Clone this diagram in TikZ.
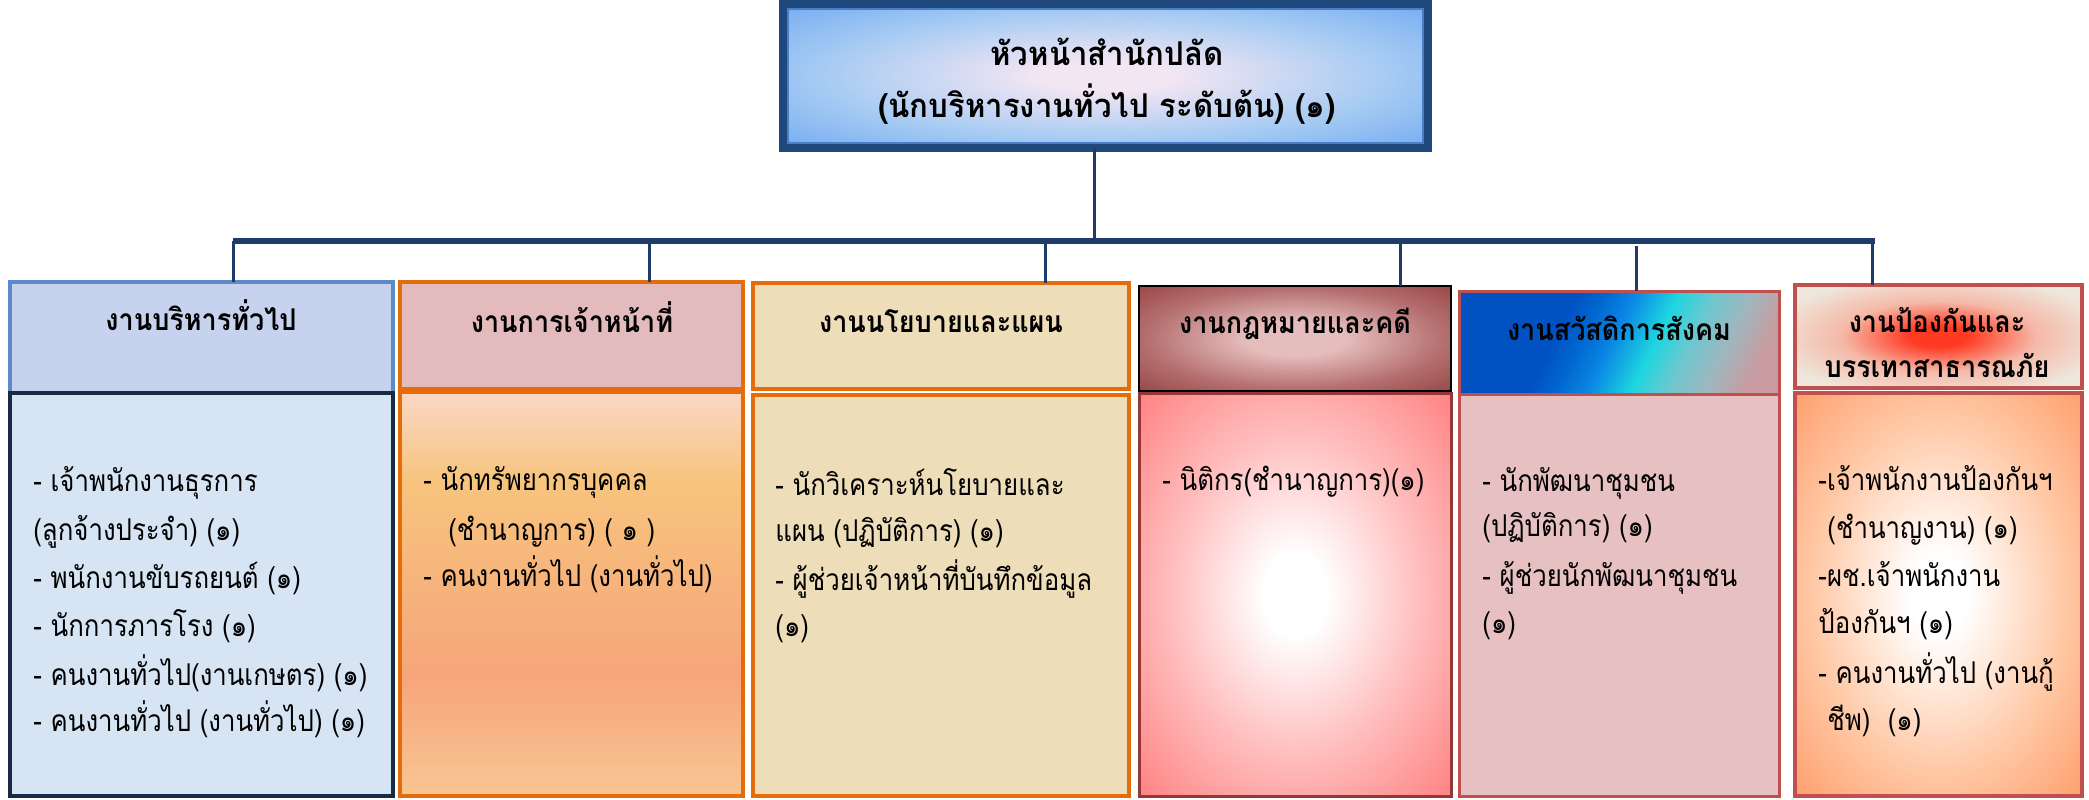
\documentclass[tikz,border=0pt]{standalone}
\usepackage{fontspec}
\setmainfont[Script=Thai, FakeStretch=0.86]{Loma}
\newfontfamily\hdrfont[Script=Thai, FakeStretch=0.9]{Loma}
\newfontfamily\topfont[Script=Thai, FakeStretch=0.95]{Loma}
\usetikzlibrary{fit}
\definecolor{navy}{HTML}{1F3C68}
\definecolor{tbborder}{HTML}{1F497D}
\definecolor{tbinner}{HTML}{4A7FC8}
\definecolor{tbin}{HTML}{F3E6F3}
\definecolor{tbmid}{HTML}{A6CBF3}
\definecolor{tbout}{HTML}{5C9CF0}
\definecolor{hone}{HTML}{C7D2EE}
\definecolor{honedraw}{HTML}{5B8CC8}
\definecolor{bone}{HTML}{D6E4F3}
\definecolor{bonedraw}{HTML}{172B45}
\definecolor{orng}{HTML}{E46C0A}
\definecolor{htwo}{HTML}{E3BBBD}
\definecolor{parch}{HTML}{EEDDB9}
\definecolor{redb}{HTML}{C0504D}
\definecolor{darkred}{HTML}{953735}
\definecolor{bfive}{HTML}{E7C0C2}
% shading colours
\definecolor{ca}{HTML}{FAE8CC}
\definecolor{cb}{HTML}{FBE3EE}
\definecolor{cc}{HTML}{F7C47D}
\definecolor{cd}{HTML}{F6A57B}
\definecolor{ce}{HTML}{F9D09A}
\definecolor{cf}{HTML}{FADCD4}
\definecolor{fa}{HTML}{0052C2}
\definecolor{fg}{HTML}{0068D0}
\definecolor{fb}{HTML}{0A86E4}
\definecolor{fc}{HTML}{1ED6E0}
\definecolor{fd}{HTML}{6CC7CF}
\definecolor{fe}{HTML}{A0B6BE}
\definecolor{ff}{HTML}{C89CA0}
\definecolor{ga}{HTML}{FF3A22}
\definecolor{gb}{HTML}{F5B9A8}
\definecolor{gc}{HTML}{EEE7DC}
\definecolor{ka}{HTML}{E6BDBD}
\definecolor{kb}{HTML}{B46E6E}
\definecolor{kc}{HTML}{8E3838}
\definecolor{pa}{HTML}{FFBDBD}
\definecolor{pb}{HTML}{FF8080}
\definecolor{oa}{HTML}{FFC8A5}
\definecolor{ob}{HTML}{FF9763}
\pgfdeclareradialshading{topsh}{\pgfpoint{0bp}{0bp}}{color(0bp)=(tbin); color(5bp)=(tbin); color(22bp)=(tbmid); color(42bp)=(tbout); color(75bp)=(tbout)}
\pgfdeclareverticalshading{btwosh}{100bp}{color(0bp)=(cf); color(20bp)=(ce); color(40bp)=(cd); color(64bp)=(cc); color(81bp)=(cb); color(100bp)=(ca)}
\pgfdeclarehorizontalshading{hfivesh}{100bp}{color(0bp)=(fa); color(38bp)=(fa); color(43bp)=(fg); color(48.5bp)=(fb); color(56.5bp)=(fc); color(63bp)=(fd); color(70bp)=(fe); color(77bp)=(ff); color(100bp)=(ff)}
\pgfdeclareradialshading{hsixsh}{\pgfpoint{0bp}{0bp}}{color(0bp)=(ga); color(5bp)=(ga); color(17bp)=(gb); color(30bp)=(gc); color(75bp)=(gc)}
\pgfdeclareradialshading{hfoursh}{\pgfpoint{0bp}{0bp}}{color(0bp)=(ka); color(8bp)=(ka); color(24bp)=(kb); color(40bp)=(kc); color(75bp)=(kc)}
\pgfdeclareradialshading{bfoursh}{\pgfpoint{0bp}{0bp}}{color(0bp)=(white); color(5bp)=(white); color(20bp)=(pa); color(36bp)=(pb); color(75bp)=(pb)}
\pgfdeclareradialshading{bsixsh}{\pgfpoint{0bp}{0bp}}{color(0bp)=(white); color(5bp)=(white); color(22bp)=(oa); color(38bp)=(ob); color(75bp)=(ob)}
\tikzset{
  boxnode/.style={inner sep=0pt, outer sep=0pt},
  conn/.style={draw=navy, line width=1.5pt},
  busline/.style={draw=navy, line width=2.8pt},
  hdr/.style={font=\hdrfont\fontsize{15}{18}\selectfont\bfseries, inner sep=0pt, anchor=base, text=black},
  toptxt/.style={font=\topfont\fontsize{16.4}{18}\selectfont\bfseries, inner sep=0pt, anchor=base, text=black},
  bodytxt/.style={font=\fontsize{15}{18}\selectfont, inner sep=0pt, anchor=base west, text=black}
}
\newcommand{\bodyln}[4]{\node[bodytxt] (#1) at (#2,#3) {#4};}
\newcommand{\hdrln}[4]{\node[hdr] (#1) at (#2,#3) {#4};}
\begin{document}
\begin{tikzpicture}[x=0.5pt,y=-0.5pt]
\useasboundingbox (0,0) rectangle (2089,799);
% top box
\node[boxnode, fit={(783,4)(1428,148)}, shade, shading=topsh, draw=tbborder, line width=4pt] (top) {};
\draw[tbinner, line width=1pt] ([shift={(5,5)}]top.north west) rectangle ([shift={(-5,-5)}]top.south east);
\node[toptxt] (tta) at (1107,65) {หัวหน้าสำนักปลัด};
\node[toptxt] (ttb) at (1107,117) {(นักบริหารงานทั่วไป ระดับต้น) (๑)};
% boxes
\node[boxnode, fit={(10,282)(393,393)}, fill=hone, draw=honedraw, line width=2pt] (h1) {};
\node[boxnode, fit={(10,393)(393,796)}, fill=bone, draw=bonedraw, line width=2pt] (b1) {};
\node[boxnode, fit={(400,282)(743,389)}, fill=htwo, draw=orng, line width=2pt] (h2) {};
\node[boxnode, fit={(400,392)(743,796)}, shade, shading=btwosh, draw=orng, line width=2pt] (b2) {};
\node[boxnode, fit={(753,283)(1129,389)}, fill=parch, draw=orng, line width=2pt] (h3) {};
\node[boxnode, fit={(753,395)(1129,796)}, fill=parch, draw=orng, line width=2pt] (b3) {};
\node[boxnode, fit={(1139,286)(1451,391)}, shade, shading=hfoursh, draw=black, line width=1.2pt] (h4) {};
\node[boxnode, fit={(1139,393)(1451,796)}, shade, shading=bfoursh, draw=darkred, line width=1.5pt] (b4) {};
\node[boxnode, fit={(1459,291)(1779,394)}, shade, shading=hfivesh, shading angle=-26, draw=redb, line width=1.5pt] (h5) {};
\node[boxnode, fit={(1459,394)(1779,796)}, fill=bfive, draw=redb, line width=1.5pt] (b5) {};
\node[boxnode, fit={(1795,285)(2082,388)}, shade, shading=hsixsh, draw=redb, line width=2pt] (h6) {};
\node[boxnode, fit={(1795,393)(2082,796)}, shade, shading=bsixsh, draw=redb, line width=2pt] (b6) {};
% connectors
\coordinate (busC) at (1094,241);
\coordinate (busL) at (233,241);
\coordinate (busR) at (1875,241);
\draw[conn] (top.south -| busC) -- (busC);
\draw[busline] (busL) -- (busR);
\coordinate (d1) at (233,241);
\coordinate (d2) at (649,238);
\coordinate (d3) at (1045,241);
\coordinate (d4) at (1400,241);
\coordinate (d5) at (1636,246);
\coordinate (d6) at (1872,241);
\draw[conn] (d1) -- (d1 |- h1.north);
\draw[conn] (d2) -- (d2 |- h2.north);
\draw[conn] (d3) -- (d3 |- h3.north);
\draw[conn] (d4) -- (d4 |- h4.north);
\draw[conn] (d5) -- (d5 |- h5.north);
\draw[conn] (d6) -- (d6 |- h6.north);
% header texts
\hdrln{ta}{201}{330}{งานบริหารทั่วไป}
\hdrln{tb}{572}{332}{งานการเจ้าหน้าที่}
\hdrln{tc}{941}{332}{งานนโยบายและแผน}
\hdrln{td}{1295}{333}{งานกฎหมายและคดี}
\hdrln{te}{1619}{340}{งานสวัสดิการสังคม}
\hdrln{tfa}{1937}{332}{งานป้องกันและ}
\hdrln{tfb}{1937}{377}{บรรเทาสาธารณภัย}
% body texts
\bodyln{aa}{33}{491}{- เจ้าพนักงานธุรการ}
\bodyln{ab}{33}{540}{(ลูกจ้างประจำ) (๑)}
\bodyln{ac}{33}{588}{- พนักงานขับรถยนต์ (๑)}
\bodyln{ad}{33}{636}{- นักการภารโรง (๑)}
\bodyln{ae}{33}{685}{- คนงานทั่วไป(งานเกษตร) (๑)}
\bodyln{af}{33}{731}{- คนงานทั่วไป (งานทั่วไป) (๑)}
\bodyln{ba}{423}{490}{- นักทรัพยากรบุคคล}
\bodyln{bb}{448}{540}{(ชำนาญการ) ( ๑ )}
\bodyln{bc}{423}{586}{- คนงานทั่วไป (งานทั่วไป)}
\bodyln{ca}{775}{495}{- นักวิเคราะห์นโยบายและ}
\bodyln{cb}{775}{541}{แผน (ปฏิบัติการ) (๑)}
\bodyln{cc}{775}{590}{- ผู้ช่วยเจ้าหน้าที่บันทึกข้อมูล}
\bodyln{cd}{775}{636}{(๑)}
\bodyln{da}{1162}{490}{- นิติกร(ชำนาญการ)(๑)}
\bodyln{ea}{1482}{491}{- นักพัฒนาชุมชน}
\bodyln{eb}{1482}{536}{(ปฏิบัติการ) (๑)}
\bodyln{ec}{1482}{586}{- ผู้ช่วยนักพัฒนาชุมชน}
\bodyln{ed}{1482}{633}{(๑)}
\bodyln{fa}{1818}{490}{-เจ้าพนักงานป้องกันฯ}
\bodyln{fb}{1827}{538}{(ชำนาญงาน) (๑)}
\bodyln{fc}{1818}{586}{-ผช.เจ้าพนักงาน}
\bodyln{fd}{1818}{633}{ป้องกันฯ (๑)}
\bodyln{fe}{1818}{683}{- คนงานทั่วไป (งานกู้}
\bodyln{ff}{1827}{730}{ชีพ)~~(๑)}
\end{tikzpicture}
\end{document}
